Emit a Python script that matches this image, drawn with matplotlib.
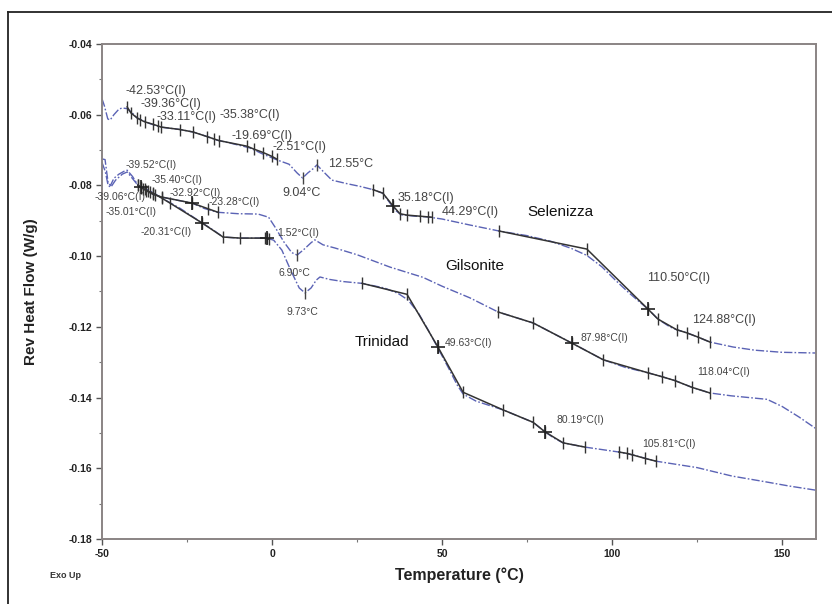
import matplotlib.pyplot as plt

plt.rcParams['font.family'] = ['Liberation Sans', 'DejaVu Sans']
plt.rcParams['axes.unicode_minus'] = False

# Reversing heat flow traces (Temperature in degC, heat flow in W/g)
sel_t = [-50, -49.3, -48.3, -47.6, -46.5, -45, -44, -42.6, -41, -39.7, -36, -32.9, -27, -23.2,
         -19, -16.2, -12, -6.5, -3, 1.5, 5, 7.4, 9.0, 10.5, 12.2, 13.2, 15, 17.6, 22, 26, 29.7,
         32.6, 34.7, 36.5, 38, 42, 45.6, 50, 58.2, 66.8, 75, 82, 88, 92.6, 97, 101, 105, 110.6,
         113.5, 117, 119, 122, 125.3, 128.8, 135.6, 142, 150, 160]
sel_hf = [-0.0555, -0.0575, -0.0612, -0.0615, -0.0600, -0.0584, -0.0581, -0.0583, -0.0596,
          -0.0609, -0.0625, -0.0635, -0.0642, -0.0649, -0.0662, -0.0672, -0.0681, -0.0694,
          -0.0710, -0.0728, -0.0740, -0.0765, -0.0779, -0.0765, -0.0752, -0.0742, -0.0760,
          -0.0785, -0.0795, -0.0803, -0.0812, -0.0822, -0.0850, -0.0872, -0.0883, -0.0887,
          -0.0889, -0.0895, -0.0912, -0.0929, -0.0942, -0.0958, -0.0978, -0.0998, -0.1030,
          -0.1068, -0.1104, -0.1150, -0.1178, -0.1200, -0.1208, -0.1217, -0.1229, -0.1243,
          -0.1257, -0.1266, -0.1272, -0.1274]

gil_t = [-50, -49.1, -48.2, -47.5, -46.5, -45, -43.5, -42.6, -41, -39.4, -37, -35, -32.9, -30,
         -23.5, -20, -16, -10, -4.1, -1, 0.9, 3.5, 5.8, 7.4, 9.5, 11.5, 12.6, 15, 18.5, 25,
         34.7, 44.4, 50, 58.2, 66.5, 76.8, 82, 88.2, 97.4, 104, 110.6, 114.7, 118.5, 123.5,
         128.8, 135, 145.6, 150, 155, 160]
gil_hf = [-0.0725, -0.0727, -0.0793, -0.0800, -0.0780, -0.0768, -0.0760, -0.0757, -0.0775,
          -0.0800, -0.0815, -0.0825, -0.0832, -0.0838, -0.0850, -0.0865, -0.0876, -0.0880,
          -0.0881, -0.0890, -0.0918, -0.0960, -0.0990, -0.0997, -0.0980, -0.0962, -0.0954,
          -0.0968, -0.0977, -0.0996, -0.1031, -0.1060, -0.1085, -0.1118, -0.1158, -0.1189,
          -0.1215, -0.1246, -0.1293, -0.1315, -0.1330, -0.1341, -0.1352, -0.1371, -0.1387,
          -0.1395, -0.1405, -0.1425, -0.1455, -0.1488]

tri_t = [-50, -49, -48.2, -47.4, -46, -44, -42.6, -39.4, -37, -35, -32.4, -27, -20.6, -17,
         -14.4, -9.4, -4, -1.5, 0.5, 2.9, 5.5, 8, 9.7, 11.5, 13, 14.1, 17, 21, 26.5, 33, 37,
         40, 43, 46, 48.8, 52, 54.5, 56.2, 60, 68, 76.8, 80.3, 83, 85.6, 92, 102, 106, 113,
         125, 135.3, 145, 152, 160]
tri_hf = [-0.0735, -0.0762, -0.0800, -0.0805, -0.0785, -0.0768, -0.0762, -0.0800, -0.0810,
          -0.0820, -0.0836, -0.0865, -0.0906, -0.0928, -0.0946, -0.0949, -0.0949, -0.0949,
          -0.0955, -0.0983, -0.1040, -0.1090, -0.1104, -0.1090, -0.1068, -0.1059, -0.1066,
          -0.1072, -0.1077, -0.1090, -0.1105, -0.1124, -0.1160, -0.1210, -0.1260, -0.1318,
          -0.1365, -0.1390, -0.1410, -0.1435, -0.1470, -0.1497, -0.1515, -0.1528, -0.1540,
          -0.1554, -0.1562, -0.1580, -0.1598, -0.1622, -0.1638, -0.1650, -0.1662]

# Analysis segments (tangent lines with limit ticks) drawn over the traces
sel_seg1_t = [-42.6, -41.5, -39.7, -38.8, -37.5, -35, -33.5, -32.6, -27, -23.2, -19.1, -17.2,
              -15.7, -7.4, -5.4, -2.6, 0, 1.5]
sel_seg1_hf = [-0.0578, -0.0595, -0.0609, -0.0614, -0.0620, -0.0627, -0.0632, -0.0635,
               -0.0642, -0.0649, -0.0662, -0.0668, -0.0673, -0.0689, -0.0697, -0.0707,
               -0.0718, -0.0726]
sel_seg2_t = [29.7, 32.6, 35.6, 37.6, 39.7, 43.5, 45.9, 47.1]
sel_seg2_hf = [-0.0812, -0.0822, -0.0858, -0.0880, -0.0884, -0.0887, -0.0889, -0.0890]
sel_seg3_t = [66.8, 92.6, 110.6, 113.5, 119, 122, 125.3, 128.8]
sel_seg3_hf = [-0.0929, -0.0980, -0.1150, -0.1178, -0.1208, -0.1217, -0.1229, -0.1243]

gil_seg1_t = [-39.4, -38.6, -37.8, -37, -36, -35, -34.4, -32.4, -23.5, -18.8, -15.9]
gil_seg1_hf = [-0.0800, -0.0805, -0.0810, -0.0815, -0.0820, -0.0825, -0.0827, -0.0833,
               -0.0850, -0.0866, -0.0876]
gil_seg2_t = [66.5, 76.8, 88.2, 97.4, 110.6, 114.7, 118.5, 123.5, 128.8]
gil_seg2_hf = [-0.1158, -0.1189, -0.1246, -0.1293, -0.1330, -0.1341, -0.1352, -0.1371, -0.1387]

tri_seg1_t = [-39.4, -38.5, -37.5, -36.5, -35, -32.4, -30, -20.6, -14.4, -9.4, -2, -1.5, -1]
tri_seg1_hf = [-0.0800, -0.0806, -0.0811, -0.0816, -0.0822, -0.0836, -0.0850, -0.0906,
               -0.0946, -0.0949, -0.0949, -0.0949, -0.0952]
tri_seg2_t = [26.5, 39.7, 48.8, 56.2, 68, 76.8, 80.3, 85.6, 92]
tri_seg2_hf = [-0.1077, -0.1108, -0.1257, -0.1385, -0.1435, -0.1470, -0.1497, -0.1528, -0.1540]
tri_seg3_t = [102, 104.5, 106, 109.7, 113]
tri_seg3_hf = [-0.1554, -0.1558, -0.1562, -0.1572, -0.1580]

# inflection points (crosses) and peak/dip markers
infl_t = [35.6, 110.6, -23.5, 88.2, -20.6, -1.5, 48.8, 80.3, -38.5]
infl_hf = [-0.0858, -0.1150, -0.0850, -0.1246, -0.0906, -0.0949, -0.1257, -0.1497, -0.0805]
peak_t = [9.0, 13.2, 7.4, 9.7]
peak_hf = [-0.0779, -0.0742, -0.0997, -0.1104]

# transition labels: text, x, y
sel_labels = [("-42.53°C(I)", -43.2, -0.0533), ("-39.36°C(I)", -38.8, -0.0570),
              ("-33.11°C(I)", -34.0, -0.0606), ("-35.38°C(I)", -15.4, -0.0602),
              ("-19.69°C(I)", -11.8, -0.0660), ("-2.51°C(I)", 0.0, -0.0692),
              ("12.55°C", 16.5, -0.0740), ("9.04°C", 3.0, -0.0822),
              ("35.18°C(I)", 37.0, -0.0836), ("44.29°C(I)", 50.0, -0.0876),
              ("110.50°C(I)", 110.3, -0.1062), ("124.88°C(I)", 123.5, -0.1180)]
small_labels = [("-39.52°C(I)", -43.2, -0.0742), ("-39.06°C(I)", -52.3, -0.0833),
                ("-35.01°C(I)", -49.1, -0.0875), ("-35.40°C(I)", -35.3, -0.0785),
                ("-32.92°C(I)", -30.0, -0.0821), ("-23.28°C(I)", -18.8, -0.0847),
                ("-20.31°C(I)", -38.8, -0.0932), ("1.52°C(I)", 1.5, -0.0935),
                ("6.90°C", 1.8, -0.1048), ("9.73°C", 4.4, -0.1158),
                ("49.63°C(I)", 50.9, -0.1246), ("87.98°C(I)", 90.6, -0.1232),
                ("118.04°C(I)", 125.0, -0.1328), ("80.19°C(I)", 83.8, -0.1463),
                ("105.81°C(I)", 108.8, -0.1531)]
sample_names = [("Selenizza", 75.0, -0.0875), ("Gilsonite", 50.9, -0.1028),
                ("Trinidad", 24.4, -0.1243)]

fig = plt.figure(figsize=(8.32, 6.04), dpi=100)
ax = fig.add_axes([0.1226, 0.1076, 0.8582, 0.8196])

trace_color = '#5b63b5'
dashes = (0, (6, 1.5, 1.2, 1.5))
for t, hf in [(sel_t, sel_hf), (gil_t, gil_hf), (tri_t, tri_hf)]:
    ax.plot(t, hf, color=trace_color, lw=1.0, linestyle=dashes)

segs = [(sel_seg1_t, sel_seg1_hf), (sel_seg2_t, sel_seg2_hf), (sel_seg3_t, sel_seg3_hf),
        (gil_seg1_t, gil_seg1_hf), (gil_seg2_t, gil_seg2_hf),
        (tri_seg1_t, tri_seg1_hf), (tri_seg2_t, tri_seg2_hf), (tri_seg3_t, tri_seg3_hf)]
for t, hf in segs:
    ax.plot(t, hf, color='#333333', lw=1.1, marker='|', ms=9, mew=1.0)

ax.plot(infl_t, infl_hf, ls='none', color='#222222', marker='+', ms=10, mew=1.2)
ax.plot(peak_t, peak_hf, ls='none', color='#444444', marker='|', ms=8, mew=1.0)

for txt, x, y in sel_labels:
    ax.text(x, y, txt, fontsize=9, color='#444444', va='center', ha='left', clip_on=False)
for txt, x, y in small_labels:
    ax.text(x, y, txt, fontsize=7.5, color='#444444', va='center', ha='left', clip_on=False)
for txt, x, y in sample_names:
    ax.text(x, y, txt, fontsize=11, color='#111111', va='center', ha='left')

ax.set_xlim(-50, 160)
ax.set_ylim(-0.18, -0.04)
ax.set_xticks([-50, 0, 50, 100, 150])
ax.set_xticks([-25, 25, 75, 125], minor=True)
ax.set_yticks([-0.18, -0.16, -0.14, -0.12, -0.10, -0.08, -0.06, -0.04])
ax.set_yticks([-0.17, -0.15, -0.13, -0.11, -0.09, -0.07, -0.05], minor=True)
ax.set_yticklabels(['%.2f' % v for v in ax.get_yticks()])
ax.tick_params(which='major', direction='out', length=4, width=1, color='#555555',
               labelsize=7.5, pad=3)
ax.tick_params(which='minor', direction='out', length=2.5, width=0.8, color='#777777')
for lab in ax.get_xticklabels() + ax.get_yticklabels():
    lab.set_fontweight('bold')
    lab.set_color('#222222')
for sp in ax.spines.values():
    sp.set_color('#8a8484')
    sp.set_linewidth(1.4)

ax.set_xlabel('Temperature (°C)', fontsize=11.5, fontweight='bold', color='#222222', labelpad=6)
ax.set_ylabel('Rev Heat Flow (W/g)', fontsize=11, fontweight='bold', color='#222222', labelpad=22)
fig.text(50 / 832, 1 - 575 / 604, 'Exo Up', fontsize=6.5, fontweight='bold', color='#333333',
         va='center', ha='left')

# page border
fig.add_artist(plt.Line2D([8 / 832, 1], [1 - 12 / 604, 1 - 12 / 604], color='#222222', lw=1.3))
fig.add_artist(plt.Line2D([8 / 832, 8 / 832], [0, 1 - 12 / 604], color='#222222', lw=1.3))

fig.savefig('out.png', dpi=100)
